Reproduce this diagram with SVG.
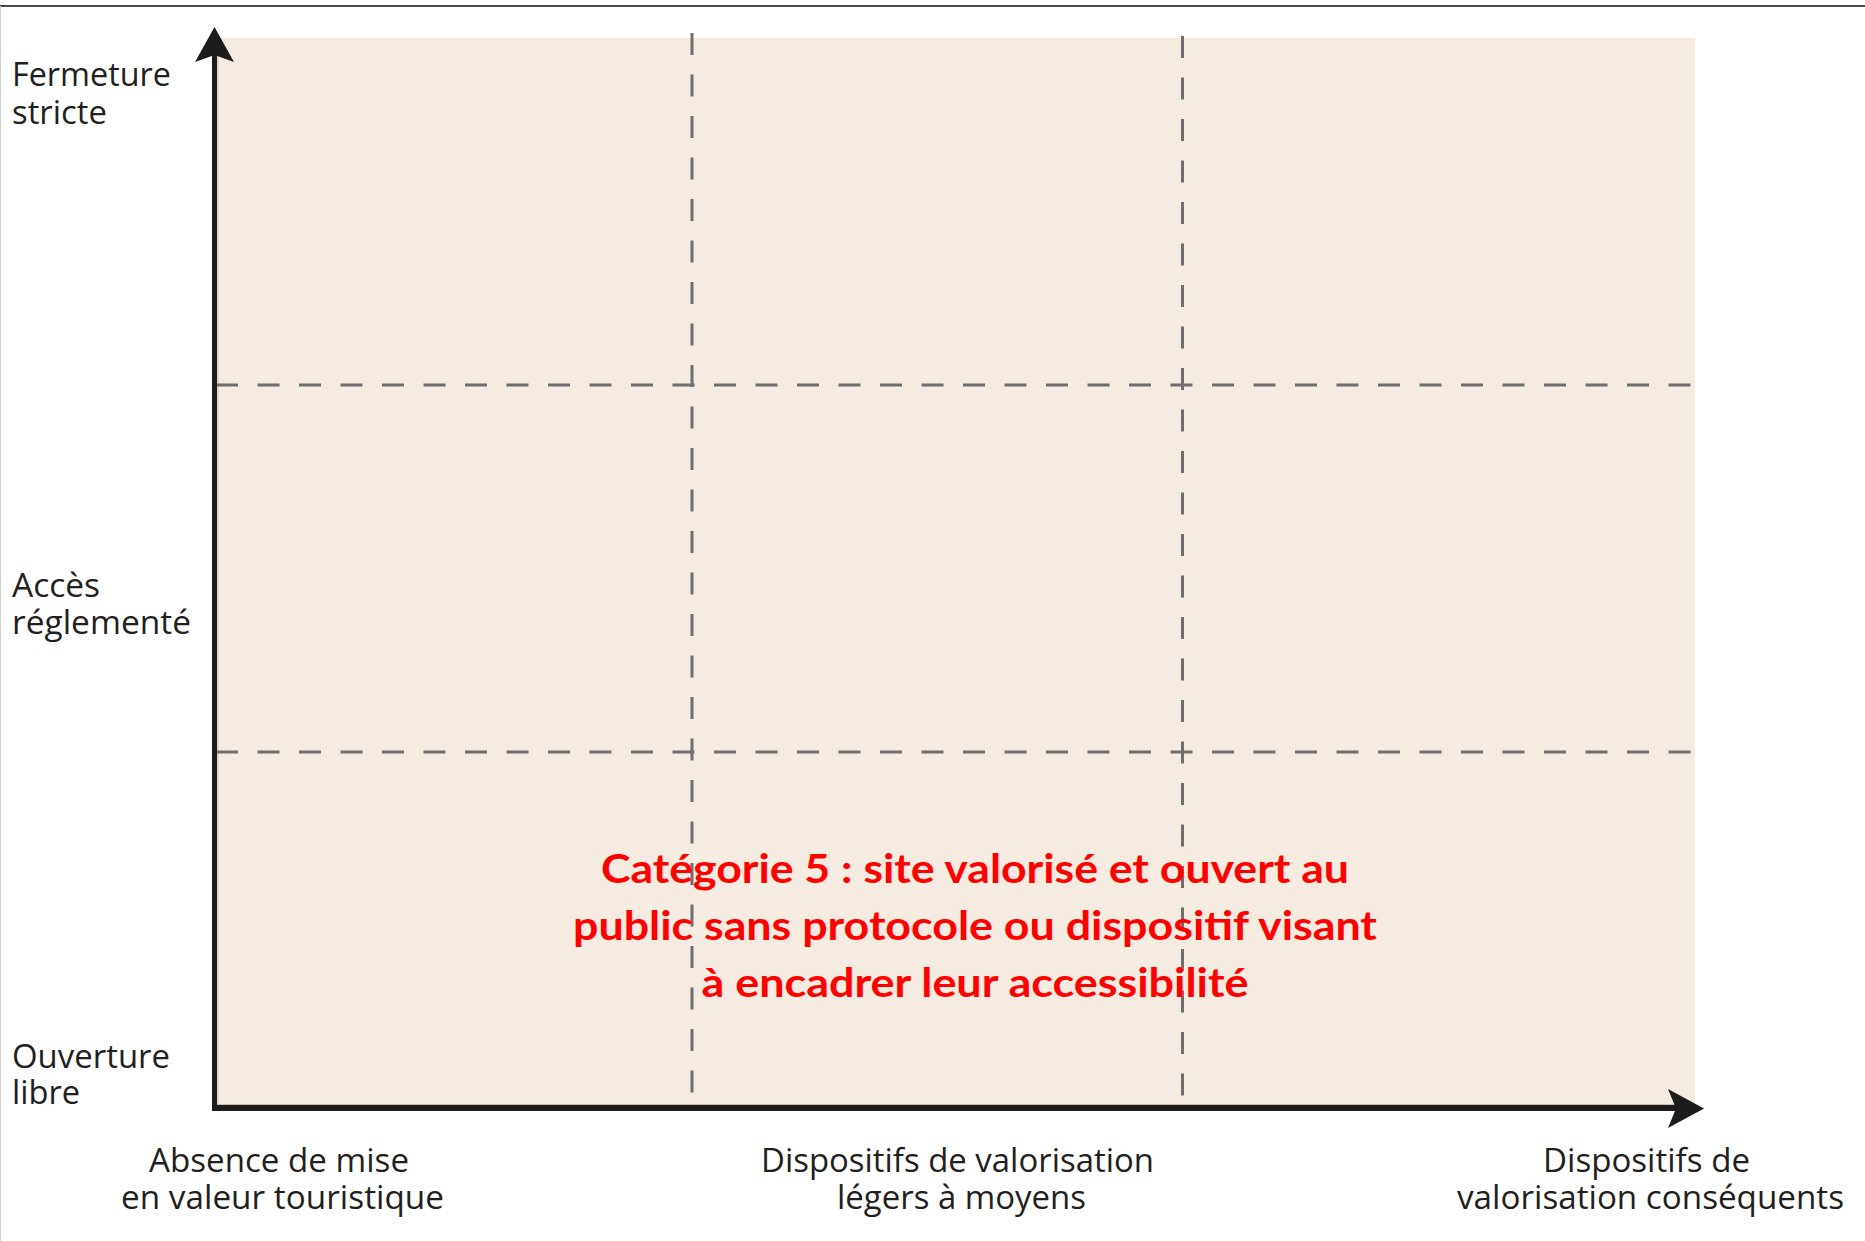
<svg xmlns="http://www.w3.org/2000/svg" width="1865" height="1241" viewBox="0 0 1865 1241">
  <style>
    .lbl { font-family: "Open Sans", "Noto Sans", "Liberation Sans", sans-serif; font-size: 33px; fill: #231f20; }
    .mid { text-anchor: middle; }
    .cat { font-family: "Lato", "Open Sans", "Liberation Sans", sans-serif; font-weight: 700; font-size: 41px; fill: #ff0000; text-anchor: middle; }
    .dash { stroke: #6e6e6e; stroke-width: 3; stroke-dasharray: 22 19.5; fill: none; }
    .axis { stroke: #1c1c1c; fill: none; }
  </style>
  <rect x="0" y="0" width="1865" height="1241" fill="#ffffff"/>
  <line x1="0" y1="6" x2="1865" y2="6" stroke="#4a4a4a" stroke-width="2"/>
  <line x1="0.5" y1="6" x2="0.5" y2="1241" stroke="#d0d0d0" stroke-width="1"/>

  <g id="plot-area">
    <rect x="217" y="38" width="1478" height="1068" fill="#f5ebe0"/>
    <line x1="218" y1="38" x2="218" y2="1104.5" stroke="#cdbfae" stroke-width="1"/>
    <line x1="217" y1="1104.5" x2="1695" y2="1104.5" stroke="#cdbfae" stroke-width="1"/>
  </g>

  <g id="grid">
    <line class="dash" x1="692" y1="33" x2="692" y2="1093"/>
    <line class="dash" x1="1182.5" y1="36" x2="1182.5" y2="1096"/>
    <line class="dash" x1="216" y1="385" x2="1691" y2="385"/>
    <line class="dash" x1="216" y1="752" x2="1691" y2="752"/>
  </g>

  <g id="connectors">
    <g id="y-axis">
      <line class="axis" x1="214.5" y1="1111" x2="214.5" y2="50" stroke-width="5"/>
      <polygon points="214.5,27 234,62 214.5,55 195,62" fill="#1c1c1c"/>
    </g>
    <g id="x-axis">
      <line class="axis" x1="212" y1="1108" x2="1680" y2="1108" stroke-width="6"/>
      <polygon points="1704,1108.5 1668,1128 1676,1108.5 1668,1089" fill="#1c1c1c"/>
    </g>
  </g>

  <g id="y-label-top">
    <text class="lbl" x="12" y="86" textLength="159" lengthAdjust="spacingAndGlyphs">Fermeture</text>
    <text class="lbl" x="12" y="124" textLength="95" lengthAdjust="spacingAndGlyphs">stricte</text>
  </g>
  <g id="y-label-mid">
    <text class="lbl" x="12" y="597" textLength="88" lengthAdjust="spacingAndGlyphs">Accès</text>
    <text class="lbl" x="12" y="634" textLength="179" lengthAdjust="spacingAndGlyphs">réglementé</text>
  </g>
  <g id="y-label-bottom">
    <text class="lbl" x="12" y="1068" textLength="158" lengthAdjust="spacingAndGlyphs">Ouverture</text>
    <text class="lbl" x="12" y="1104" textLength="68" lengthAdjust="spacingAndGlyphs">libre</text>
  </g>

  <g id="x-label-left">
    <text class="lbl mid" x="279" y="1172" textLength="260" lengthAdjust="spacingAndGlyphs">Absence de mise</text>
    <text class="lbl mid" x="282.5" y="1209" textLength="323" lengthAdjust="spacingAndGlyphs">en valeur touristique</text>
  </g>
  <g id="x-label-mid">
    <text class="lbl mid" x="957.5" y="1172" textLength="393" lengthAdjust="spacingAndGlyphs">Dispositifs de valorisation</text>
    <text class="lbl mid" x="961.5" y="1209" textLength="249" lengthAdjust="spacingAndGlyphs">légers à moyens</text>
  </g>
  <g id="x-label-right">
    <text class="lbl mid" x="1646.5" y="1172" textLength="207" lengthAdjust="spacingAndGlyphs">Dispositifs de</text>
    <text class="lbl mid" x="1650.5" y="1209" textLength="387" lengthAdjust="spacingAndGlyphs">valorisation conséquents</text>
  </g>

  <g id="category-5">
    <text class="cat" x="975" y="883" textLength="748" lengthAdjust="spacingAndGlyphs">Catégorie 5 : site valorisé et ouvert au</text>
    <text class="cat" x="975" y="940" textLength="804" lengthAdjust="spacingAndGlyphs">public sans protocole ou dispositif visant</text>
    <text class="cat" x="975" y="997" textLength="547" lengthAdjust="spacingAndGlyphs">à encadrer leur accessibilité</text>
  </g>
</svg>
